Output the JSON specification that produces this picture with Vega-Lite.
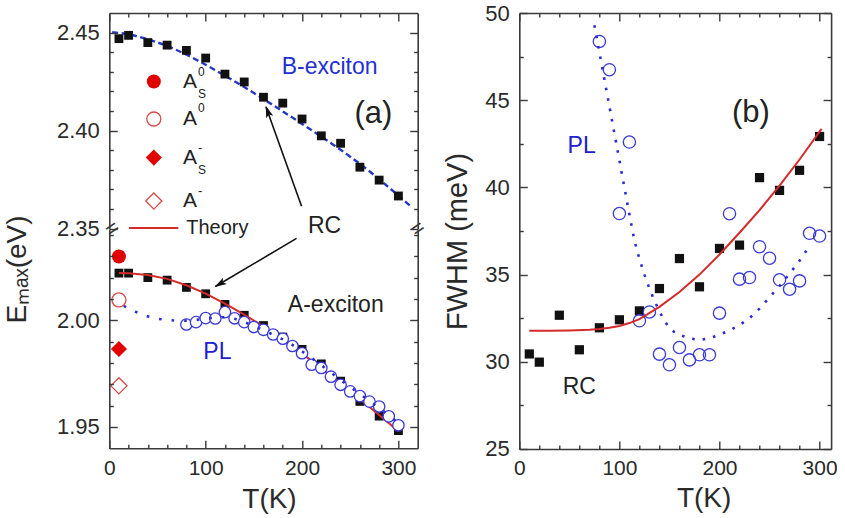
{
  "$schema": "https://vega.github.io/schema/vega-lite/v6.json",
  "background": "white",
  "padding": {"left": 3.3, "top": 2, "right": 0, "bottom": 0},
  "config": {
    "font": "Liberation Sans",
    "view": {"stroke": null},
    "axis": {
      "grid": false,
      "domainColor": "#3a3a3a",
      "domainWidth": 1.6,
      "tickColor": "#3a3a3a",
      "tickWidth": 1.4,
      "labelFontSize": 21,
      "labelColor": "#2a2a2a",
      "titleFontSize": 28,
      "titleFontWeight": "normal",
      "titleColor": "#2a2a2a"
    }
  },
  "datasets": {
    "note": [{"n": 1}],
    "bexc": [
      {"T": 10, "E": 2.4469}, {"T": 20, "E": 2.4486}, {"T": 40, "E": 2.4449}, {"T": 60, "E": 2.4436},
      {"T": 80, "E": 2.4409}, {"T": 100, "E": 2.4370}, {"T": 120, "E": 2.4288}, {"T": 140, "E": 2.4248},
      {"T": 160, "E": 2.4170}, {"T": 180, "E": 2.4140}, {"T": 200, "E": 2.4059}, {"T": 220, "E": 2.3973},
      {"T": 240, "E": 2.3935}, {"T": 260, "E": 2.3813}, {"T": 280, "E": 2.3747}, {"T": 300, "E": 2.3666}
    ],
    "bfit": [
      {"T": 3, "E": 2.4502}, {"T": 20, "E": 2.4493}, {"T": 40, "E": 2.4466}, {"T": 60, "E": 2.4433},
      {"T": 80, "E": 2.4388}, {"T": 100, "E": 2.4336}, {"T": 120, "E": 2.4280}, {"T": 140, "E": 2.4222},
      {"T": 160, "E": 2.4161}, {"T": 180, "E": 2.4098}, {"T": 200, "E": 2.4034}, {"T": 220, "E": 2.3969},
      {"T": 240, "E": 2.3902}, {"T": 260, "E": 2.3831}, {"T": 280, "E": 2.3752}, {"T": 300, "E": 2.3668},
      {"T": 312, "E": 2.3617}
    ],
    "arc": [
      {"T": 10, "E": 2.0222}, {"T": 20, "E": 2.0222}, {"T": 40, "E": 2.0201}, {"T": 60, "E": 2.0189},
      {"T": 80, "E": 2.0155}, {"T": 100, "E": 2.0125}, {"T": 120, "E": 2.0075}, {"T": 140, "E": 2.0024},
      {"T": 160, "E": 1.9976}, {"T": 180, "E": 1.9922}, {"T": 200, "E": 1.9864}, {"T": 220, "E": 1.9796},
      {"T": 240, "E": 1.9715}, {"T": 260, "E": 1.9620}, {"T": 280, "E": 1.9551}, {"T": 300, "E": 1.9483}
    ],
    "atheory": [
      {"T": 10, "E": 2.0222}, {"T": 20, "E": 2.0221}, {"T": 40, "E": 2.0213}, {"T": 60, "E": 2.0195},
      {"T": 80, "E": 2.0165}, {"T": 100, "E": 2.0126}, {"T": 120, "E": 2.0079}, {"T": 140, "E": 2.0027},
      {"T": 160, "E": 1.9972}, {"T": 180, "E": 1.9910}, {"T": 200, "E": 1.9844}, {"T": 220, "E": 1.9775},
      {"T": 240, "E": 1.9704}, {"T": 260, "E": 1.9631}, {"T": 280, "E": 1.9556}, {"T": 300, "E": 1.9480}
    ],
    "apl": [
      {"T": 80, "E": 1.9981}, {"T": 90, "E": 1.9992}, {"T": 100, "E": 2.0011}, {"T": 110, "E": 2.0009},
      {"T": 120, "E": 2.0039}, {"T": 130, "E": 2.0010}, {"T": 140, "E": 1.9992}, {"T": 150, "E": 1.9969},
      {"T": 160, "E": 1.9956}, {"T": 170, "E": 1.9934}, {"T": 180, "E": 1.9914}, {"T": 190, "E": 1.9880},
      {"T": 200, "E": 1.9846}, {"T": 210, "E": 1.9792}, {"T": 220, "E": 1.9777}, {"T": 230, "E": 1.9736},
      {"T": 240, "E": 1.9698}, {"T": 250, "E": 1.9667}, {"T": 260, "E": 1.9645}, {"T": 270, "E": 1.9619},
      {"T": 280, "E": 1.9596}, {"T": 290, "E": 1.9550}, {"T": 300, "E": 1.9508}
    ],
    "aplfit": [
      {"T": 15, "E": 2.0068}, {"T": 20, "E": 2.0056}, {"T": 30, "E": 2.0035}, {"T": 40, "E": 2.0019},
      {"T": 50, "E": 2.0008}, {"T": 60, "E": 2.0002}, {"T": 70, "E": 1.9999}, {"T": 80, "E": 1.9999},
      {"T": 90, "E": 2.0002}, {"T": 100, "E": 2.0008}, {"T": 110, "E": 2.0014}, {"T": 120, "E": 2.0015},
      {"T": 130, "E": 2.0008}, {"T": 140, "E": 1.9993}, {"T": 150, "E": 1.9974}, {"T": 160, "E": 1.9954},
      {"T": 170, "E": 1.9933}, {"T": 180, "E": 1.9911}, {"T": 190, "E": 1.9885}, {"T": 200, "E": 1.9855},
      {"T": 210, "E": 1.9823}, {"T": 220, "E": 1.9790}, {"T": 230, "E": 1.9755}, {"T": 240, "E": 1.9721},
      {"T": 250, "E": 1.9688}, {"T": 260, "E": 1.9655}, {"T": 270, "E": 1.9622}, {"T": 280, "E": 1.9590},
      {"T": 290, "E": 1.9555}, {"T": 300, "E": 1.9518}
    ],
    "trions": [
      {"T": 10, "E": 2.0300, "state": "As0"},
      {"T": 10, "E": 2.0096, "state": "A0"},
      {"T": 10, "E": 1.9866, "state": "AsM"},
      {"T": 10, "E": 1.9693, "state": "AM"}
    ],
    "wrc": [
      {"T": 10, "W": 30.45}, {"T": 20, "W": 29.98}, {"T": 40, "W": 32.67}, {"T": 60, "W": 30.69},
      {"T": 80, "W": 31.95}, {"T": 100, "W": 32.41}, {"T": 120, "W": 32.92}, {"T": 140, "W": 34.20},
      {"T": 160, "W": 35.92}, {"T": 180, "W": 34.30}, {"T": 200, "W": 36.50}, {"T": 220, "W": 36.69},
      {"T": 240, "W": 40.56}, {"T": 260, "W": 39.83}, {"T": 280, "W": 40.98}, {"T": 300, "W": 42.92}
    ],
    "wpl": [
      {"T": 80, "W": 48.37}, {"T": 90, "W": 46.75}, {"T": 100, "W": 38.50}, {"T": 110, "W": 42.60},
      {"T": 120, "W": 32.35}, {"T": 130, "W": 32.86}, {"T": 140, "W": 30.44}, {"T": 150, "W": 29.83},
      {"T": 160, "W": 30.82}, {"T": 170, "W": 30.11}, {"T": 180, "W": 30.40}, {"T": 190, "W": 30.40},
      {"T": 200, "W": 32.79}, {"T": 210, "W": 38.49}, {"T": 220, "W": 34.74}, {"T": 230, "W": 34.83},
      {"T": 240, "W": 36.60}, {"T": 250, "W": 35.94}, {"T": 260, "W": 34.70}, {"T": 270, "W": 34.16},
      {"T": 280, "W": 34.64}, {"T": 290, "W": 37.37}, {"T": 300, "W": 37.21}
    ],
    "wtheory": [
      {"T": 10, "W": 31.78}, {"T": 30, "W": 31.78}, {"T": 50, "W": 31.80}, {"T": 70, "W": 31.84},
      {"T": 80, "W": 31.88}, {"T": 90, "W": 31.95}, {"T": 100, "W": 32.05}, {"T": 110, "W": 32.22},
      {"T": 120, "W": 32.45}, {"T": 140, "W": 33.15}, {"T": 160, "W": 34.00}, {"T": 180, "W": 35.00},
      {"T": 200, "W": 36.15}, {"T": 220, "W": 37.40}, {"T": 240, "W": 38.70}, {"T": 260, "W": 40.10},
      {"T": 280, "W": 41.60}, {"T": 300, "W": 43.20}, {"T": 302, "W": 43.35}
    ],
    "wplfit": [
      {"T": 75, "W": 49.30}, {"T": 80, "W": 47.75}, {"T": 85, "W": 46.20}, {"T": 90, "W": 44.65},
      {"T": 95, "W": 43.10}, {"T": 100, "W": 41.55}, {"T": 105, "W": 40.00}, {"T": 110, "W": 38.45},
      {"T": 115, "W": 36.95}, {"T": 120, "W": 35.90}, {"T": 125, "W": 35.00}, {"T": 130, "W": 34.20},
      {"T": 135, "W": 33.50}, {"T": 140, "W": 32.90}, {"T": 145, "W": 32.35}, {"T": 150, "W": 31.95},
      {"T": 155, "W": 31.70}, {"T": 160, "W": 31.55}, {"T": 170, "W": 31.35}, {"T": 180, "W": 31.25},
      {"T": 190, "W": 31.35}, {"T": 200, "W": 31.55}, {"T": 210, "W": 31.80}, {"T": 220, "W": 32.10},
      {"T": 230, "W": 32.50}, {"T": 240, "W": 33.05}, {"T": 250, "W": 33.70}, {"T": 260, "W": 34.35},
      {"T": 270, "W": 35.05}, {"T": 280, "W": 35.80}, {"T": 290, "W": 36.65}
    ]
  },
  "spacing": 14,
  "hconcat": [
    {
      "spacing": 0,
      "bounds": "flush",
      "vconcat": [
        {
          "width": 308.4,
          "height": 215.5,
          "resolve": {"axis": {"x": "independent", "y": "independent"}},
          "layer": [
            {
              "layer": [
                {
                  "data": {"name": "bfit"},
                  "mark": {"type": "line", "stroke": "#2438c8", "strokeWidth": 2.4, "strokeDash": [6, 3.5]},
                  "encoding": {"x": {"field": "T", "type": "quantitative", "axis": null}, "y": {"field": "E", "type": "quantitative", "axis": null}}
                },
                {
                  "data": {"name": "bexc"},
                  "mark": {"type": "square", "color": "#111111", "size": 78, "opacity": 1},
                  "encoding": {"x": {"field": "T", "type": "quantitative", "axis": null}, "y": {"field": "E", "type": "quantitative", "axis": null}}
                },
                {
                  "data": {"name": "note"},
                  "mark": {"type": "text", "text": "B-exciton", "color": "#2430d0", "fontSize": 23, "baseline": "middle"},
                  "encoding": {"x": {"datum": 228.6, "axis": null}, "y": {"datum": 2.4324, "axis": null}}
                },
                {
                  "data": {"name": "note"},
                  "mark": {"type": "text", "text": "(a)", "color": "#222222", "fontSize": 31, "baseline": "middle"},
                  "encoding": {"x": {"datum": 274.1, "axis": null}, "y": {"datum": 2.4085, "axis": null}}
                },
                {
                  "data": {"name": "note"},
                  "mark": {"type": "text", "text": "RC", "color": "#222222", "fontSize": 23, "baseline": "middle"},
                  "encoding": {"x": {"datum": 223.4, "axis": null}, "y": {"datum": 2.3512, "axis": null}}
                },
                {
                  "data": {"name": "note"},
                  "mark": {"type": "rule", "color": "#111111", "strokeWidth": 1.6},
                  "encoding": {"x": {"datum": 199.5, "axis": null}, "y": {"datum": 2.3614, "axis": null}, "x2": {"datum": 162.6}, "y2": {"datum": 2.4120}}
                },
                {
                  "data": {"name": "note"},
                  "mark": {"type": "point", "shape": "M0,0L-0.5,1.6L0,1.25L0.5,1.6Z", "filled": true, "color": "#111111", "size": 225, "angle": 340.4, "opacity": 1},
                  "encoding": {"x": {"datum": 162.3, "axis": null}, "y": {"datum": 2.4127, "axis": null}}
                },
                {
                  "data": {"name": "note"},
                  "mark": {"type": "point", "shape": "circle", "filled": true, "color": "#e00000", "size": 196, "opacity": 1},
                  "encoding": {"x": {"datum": 46.2, "axis": null}, "y": {"datum": 2.4250, "axis": null}}
                },
                {
                  "data": {"name": "note"},
                  "mark": {"type": "point", "shape": "circle", "filled": false, "color": "#d64a4a", "strokeWidth": 1.3, "size": 196, "opacity": 1},
                  "encoding": {"x": {"datum": 46.2, "axis": null}, "y": {"datum": 2.4059, "axis": null}}
                },
                {
                  "data": {"name": "note"},
                  "mark": {"type": "point", "shape": "diamond", "filled": true, "color": "#e00000", "size": 260, "opacity": 1},
                  "encoding": {"x": {"datum": 46.2, "axis": null}, "y": {"datum": 2.3862, "axis": null}}
                },
                {
                  "data": {"name": "note"},
                  "mark": {"type": "point", "shape": "diamond", "filled": false, "color": "#d64a4a", "strokeWidth": 1.3, "size": 260, "opacity": 1},
                  "encoding": {"x": {"datum": 46.2, "axis": null}, "y": {"datum": 2.3640, "axis": null}}
                },
                {
                  "data": {"name": "note"},
                  "mark": {"type": "rule", "color": "#d42a2a", "strokeWidth": 2},
                  "encoding": {"x": {"datum": 20.5, "axis": null}, "x2": {"datum": 71.6}, "y": {"datum": 2.3503, "axis": null}}
                },
                {
                  "data": {"name": "note"},
                  "mark": {"type": "text", "text": "A", "color": "#222222", "fontSize": 21, "align": "left", "baseline": "middle"},
                  "encoding": {"x": {"datum": 76.4, "axis": null}, "y": {"datum": 2.4250, "axis": null}}
                },
                {
                  "data": {"name": "note"},
                  "mark": {"type": "text", "text": "0", "color": "#222222", "fontSize": 12, "align": "left", "baseline": "middle", "dx": 15, "dy": -10},
                  "encoding": {"x": {"datum": 76.4, "axis": null}, "y": {"datum": 2.4250, "axis": null}}
                },
                {
                  "data": {"name": "note"},
                  "mark": {"type": "text", "text": "S", "color": "#222222", "fontSize": 12, "align": "left", "baseline": "middle", "dx": 15, "dy": 12},
                  "encoding": {"x": {"datum": 76.4, "axis": null}, "y": {"datum": 2.4250, "axis": null}}
                },
                {
                  "data": {"name": "note"},
                  "mark": {"type": "text", "text": "A", "color": "#222222", "fontSize": 21, "align": "left", "baseline": "middle"},
                  "encoding": {"x": {"datum": 76.4, "axis": null}, "y": {"datum": 2.4059, "axis": null}}
                },
                {
                  "data": {"name": "note"},
                  "mark": {"type": "text", "text": "0", "color": "#222222", "fontSize": 12, "align": "left", "baseline": "middle", "dx": 15, "dy": -11},
                  "encoding": {"x": {"datum": 76.4, "axis": null}, "y": {"datum": 2.4059, "axis": null}}
                },
                {
                  "data": {"name": "note"},
                  "mark": {"type": "text", "text": "A", "color": "#222222", "fontSize": 21, "align": "left", "baseline": "middle"},
                  "encoding": {"x": {"datum": 76.4, "axis": null}, "y": {"datum": 2.3862, "axis": null}}
                },
                {
                  "data": {"name": "note"},
                  "mark": {"type": "text", "text": "-", "color": "#222222", "fontSize": 13, "align": "left", "baseline": "middle", "dx": 15, "dy": -10},
                  "encoding": {"x": {"datum": 76.4, "axis": null}, "y": {"datum": 2.3862, "axis": null}}
                },
                {
                  "data": {"name": "note"},
                  "mark": {"type": "text", "text": "S", "color": "#222222", "fontSize": 12, "align": "left", "baseline": "middle", "dx": 15, "dy": 12},
                  "encoding": {"x": {"datum": 76.4, "axis": null}, "y": {"datum": 2.3862, "axis": null}}
                },
                {
                  "data": {"name": "note"},
                  "mark": {"type": "text", "text": "A", "color": "#222222", "fontSize": 21, "align": "left", "baseline": "middle"},
                  "encoding": {"x": {"datum": 76.4, "axis": null}, "y": {"datum": 2.3640, "axis": null}}
                },
                {
                  "data": {"name": "note"},
                  "mark": {"type": "text", "text": "-", "color": "#222222", "fontSize": 13, "align": "left", "baseline": "middle", "dx": 15, "dy": -10},
                  "encoding": {"x": {"datum": 76.4, "axis": null}, "y": {"datum": 2.3640, "axis": null}}
                },
                {
                  "data": {"name": "note"},
                  "mark": {"type": "text", "text": "Theory", "color": "#222222", "fontSize": 20, "align": "left", "baseline": "middle"},
                  "encoding": {"x": {"datum": 79.8, "axis": null}, "y": {"datum": 2.3503, "axis": null}}
                },
                {
                  "data": {"name": "note"},
                  "mark": {"type": "text", "text": "=", "color": "#333333", "fontSize": 22, "angle": 325, "baseline": "middle"},
                  "encoding": {"x": {"datum": 3, "axis": null}, "y": {"datum": 2.35, "axis": null}}
                },
                {
                  "data": {"name": "note"},
                  "mark": {"type": "text", "text": "=", "color": "#333333", "fontSize": 22, "angle": 325, "baseline": "middle"},
                  "encoding": {"x": {"datum": 320, "axis": null}, "y": {"datum": 2.35, "axis": null}}
                }
              ]
            },
            {
              "data": {"name": "bexc"},
              "mark": {"type": "point", "opacity": 0},
              "encoding": {
                "x": {"field": "T", "type": "quantitative", "scale": {"domain": [0, 320], "nice": false, "zero": false},
                  "axis": {"orient": "top", "values": [0, 100, 200, 300], "labels": false, "title": null, "tickSize": -8, "zindex": 1}},
                "y": {"field": "E", "type": "quantitative", "scale": {"domain": [2.35, 2.46], "nice": false, "zero": false},
                  "axis": {"orient": "left", "values": [2.35, 2.40, 2.45], "format": ".2f", "labelFontSize": 22, "labelPadding": 18, "labelOverlap": false, "title": null, "tickSize": -8, "zindex": 1}}
              }
            },
            {
              "data": {"name": "bexc"},
              "mark": {"type": "point", "opacity": 0},
              "encoding": {
                "x": {"field": "T", "type": "quantitative",
                  "axis": {"orient": "top", "values": [20, 40, 60, 80, 120, 140, 160, 180, 220, 240, 260, 280], "labels": false, "domain": false, "title": null, "tickSize": -4, "zindex": 1}},
                "y": {"field": "E", "type": "quantitative",
                  "axis": {"orient": "left", "values": [2.36, 2.37, 2.38, 2.39, 2.41, 2.42, 2.43, 2.44], "labels": false, "domain": false, "title": null, "tickSize": -4, "zindex": 1}}
              }
            },
            {
              "data": {"name": "bexc"},
              "mark": {"type": "point", "opacity": 0},
              "encoding": {
                "x": {"field": "T", "type": "quantitative", "axis": null},
                "y": {"field": "E", "type": "quantitative",
                  "axis": {"orient": "right", "values": [2.35, 2.40, 2.45], "labels": false, "title": null, "tickSize": -8, "zindex": 1}}
              }
            },
            {
              "data": {"name": "bexc"},
              "mark": {"type": "point", "opacity": 0},
              "encoding": {
                "x": {"field": "T", "type": "quantitative", "axis": null},
                "y": {"field": "E", "type": "quantitative",
                  "axis": {"orient": "right", "values": [2.36, 2.37, 2.38, 2.39, 2.41, 2.42, 2.43, 2.44], "labels": false, "domain": false, "title": null, "tickSize": -4, "zindex": 1}}
              }
            }
          ]
        },
        {
          "width": 308.4,
          "height": 219.3,
          "resolve": {"axis": {"x": "independent", "y": "independent"}},
          "layer": [
            {
              "layer": [
                {
                  "data": {"name": "arc"},
                  "mark": {"type": "square", "color": "#111111", "size": 78, "opacity": 1},
                  "encoding": {"x": {"field": "T", "type": "quantitative", "axis": null}, "y": {"field": "E", "type": "quantitative", "axis": null}}
                },
                {
                  "data": {"name": "atheory"},
                  "mark": {"type": "line", "stroke": "#d42a2a", "strokeWidth": 2},
                  "encoding": {"x": {"field": "T", "type": "quantitative", "axis": null}, "y": {"field": "E", "type": "quantitative", "axis": null}}
                },
                {
                  "data": {"name": "apl"},
                  "mark": {"type": "point", "shape": "circle", "filled": true, "fill": "#ffffff", "stroke": "#3a3ad8", "strokeWidth": 1.3, "size": 130, "opacity": 1},
                  "encoding": {"x": {"field": "T", "type": "quantitative", "axis": null}, "y": {"field": "E", "type": "quantitative", "axis": null}}
                },
                {
                  "data": {"name": "aplfit"},
                  "mark": {"type": "line", "stroke": "#2b2bd6", "strokeWidth": 2.6, "strokeDash": [2.6, 10]},
                  "encoding": {"x": {"field": "T", "type": "quantitative", "axis": null}, "y": {"field": "E", "type": "quantitative", "axis": null}}
                },
                {
                  "data": {"name": "trions"},
                  "transform": [{"filter": "datum.state === 'As0'"}],
                  "mark": {"type": "point", "shape": "circle", "filled": true, "color": "#e00000", "size": 196, "opacity": 1},
                  "encoding": {"x": {"field": "T", "type": "quantitative", "axis": null}, "y": {"field": "E", "type": "quantitative", "axis": null}}
                },
                {
                  "data": {"name": "trions"},
                  "transform": [{"filter": "datum.state === 'A0'"}],
                  "mark": {"type": "point", "shape": "circle", "filled": false, "color": "#d64a4a", "strokeWidth": 1.3, "size": 196, "opacity": 1},
                  "encoding": {"x": {"field": "T", "type": "quantitative", "axis": null}, "y": {"field": "E", "type": "quantitative", "axis": null}}
                },
                {
                  "data": {"name": "trions"},
                  "transform": [{"filter": "datum.state === 'AsM'"}],
                  "mark": {"type": "point", "shape": "diamond", "filled": true, "color": "#e00000", "size": 260, "opacity": 1},
                  "encoding": {"x": {"field": "T", "type": "quantitative", "axis": null}, "y": {"field": "E", "type": "quantitative", "axis": null}}
                },
                {
                  "data": {"name": "trions"},
                  "transform": [{"filter": "datum.state === 'AM'"}],
                  "mark": {"type": "point", "shape": "diamond", "filled": false, "color": "#d64a4a", "strokeWidth": 1.3, "size": 260, "opacity": 1},
                  "encoding": {"x": {"field": "T", "type": "quantitative", "axis": null}, "y": {"field": "E", "type": "quantitative", "axis": null}}
                },
                {
                  "data": {"name": "note"},
                  "mark": {"type": "text", "text": "A-exciton", "color": "#222222", "fontSize": 23, "baseline": "middle"},
                  "encoding": {"x": {"datum": 235, "axis": null}, "y": {"datum": 2.0071, "axis": null}}
                },
                {
                  "data": {"name": "note"},
                  "mark": {"type": "text", "text": "PL", "color": "#2020d0", "fontSize": 23, "baseline": "middle"},
                  "encoding": {"x": {"datum": 112.2, "axis": null}, "y": {"datum": 1.9850, "axis": null}}
                },
                {
                  "data": {"name": "note"},
                  "mark": {"type": "rule", "color": "#111111", "strokeWidth": 1.6},
                  "encoding": {"x": {"datum": 194.3, "axis": null}, "y": {"datum": 2.0385, "axis": null}, "x2": {"datum": 110}, "y2": {"datum": 2.0159}}
                },
                {
                  "data": {"name": "note"},
                  "mark": {"type": "point", "shape": "M0,0L-0.5,1.6L0,1.25L0.5,1.6Z", "filled": true, "color": "#111111", "size": 225, "angle": 239.4, "opacity": 1},
                  "encoding": {"x": {"datum": 109.3, "axis": null}, "y": {"datum": 2.0157, "axis": null}}
                }
              ]
            },
            {
              "data": {"name": "arc"},
              "mark": {"type": "point", "opacity": 0},
              "encoding": {
                "x": {"field": "T", "type": "quantitative", "scale": {"domain": [0, 320], "nice": false, "zero": false},
                  "axis": {"orient": "bottom", "values": [0, 100, 200, 300], "labelPadding": 17, "labelOverlap": false, "labelFlush": false, "tickSize": -8, "zindex": 1,
                    "title": "T(K)", "titleX": 159.7, "titleY": 59.7, "titleBaseline": "alphabetic", "titleAlign": "center"}},
                "y": {"field": "E", "type": "quantitative", "scale": {"domain": [1.94, 2.0429], "nice": false, "zero": false},
                  "axis": {"orient": "left", "values": [1.95, 2.0], "format": ".2f", "labelFontSize": 22, "labelPadding": 18, "labelOverlap": false, "tickSize": -8, "zindex": 1,
                    "title": "Eₘₐₓ(eV)", "titleX": -83.9, "titleY": 40, "titleAngle": 270, "titleBaseline": "alphabetic", "titleAlign": "center"}}
              }
            },
            {
              "data": {"name": "arc"},
              "mark": {"type": "point", "opacity": 0},
              "encoding": {
                "x": {"field": "T", "type": "quantitative",
                  "axis": {"orient": "bottom", "values": [20, 40, 60, 80, 120, 140, 160, 180, 220, 240, 260, 280], "labels": false, "domain": false, "title": null, "tickSize": -4, "zindex": 1}},
                "y": {"field": "E", "type": "quantitative",
                  "axis": {"orient": "left", "values": [1.96, 1.97, 1.98, 1.99, 2.01, 2.02, 2.03, 2.04], "labels": false, "domain": false, "title": null, "tickSize": -4, "zindex": 1}}
              }
            },
            {
              "data": {"name": "arc"},
              "mark": {"type": "point", "opacity": 0},
              "encoding": {
                "x": {"field": "T", "type": "quantitative", "axis": null},
                "y": {"field": "E", "type": "quantitative",
                  "axis": {"orient": "right", "values": [1.95, 2.0], "labels": false, "title": null, "tickSize": -8, "zindex": 1}}
              }
            },
            {
              "data": {"name": "arc"},
              "mark": {"type": "point", "opacity": 0},
              "encoding": {
                "x": {"field": "T", "type": "quantitative", "axis": null},
                "y": {"field": "E", "type": "quantitative",
                  "axis": {"orient": "right", "values": [1.96, 1.97, 1.98, 1.99, 2.01, 2.02, 2.03, 2.04], "labels": false, "domain": false, "title": null, "tickSize": -4, "zindex": 1}}
              }
            }
          ]
        }
      ]
    },
    {
      "width": 311.8,
      "height": 436,
      "resolve": {"axis": {"x": "independent", "y": "independent"}},
      "layer": [
        {
          "layer": [
            {
              "data": {"name": "wrc"},
              "mark": {"type": "square", "color": "#111111", "size": 85, "opacity": 1},
              "encoding": {"x": {"field": "T", "type": "quantitative", "axis": null}, "y": {"field": "W", "type": "quantitative", "axis": null}}
            },
            {
              "data": {"name": "wpl"},
              "mark": {"type": "point", "shape": "circle", "filled": false, "color": "#3a3ad8", "strokeWidth": 1.3, "size": 150, "opacity": 1},
              "encoding": {"x": {"field": "T", "type": "quantitative", "axis": null}, "y": {"field": "W", "type": "quantitative", "axis": null}}
            },
            {
              "data": {"name": "wtheory"},
              "mark": {"type": "line", "stroke": "#d42a2a", "strokeWidth": 2},
              "encoding": {"x": {"field": "T", "type": "quantitative", "axis": null}, "y": {"field": "W", "type": "quantitative", "axis": null}}
            },
            {
              "data": {"name": "wplfit"},
              "mark": {"type": "line", "stroke": "#2b2bd6", "strokeWidth": 2.6, "strokeDash": [2.6, 8]},
              "encoding": {"x": {"field": "T", "type": "quantitative", "axis": null}, "y": {"field": "W", "type": "quantitative", "axis": null}}
            },
            {
              "data": {"name": "note"},
              "mark": {"type": "text", "text": "(b)", "color": "#222222", "fontSize": 31, "baseline": "middle"},
              "encoding": {"x": {"datum": 231.3, "axis": null}, "y": {"datum": 44.29, "axis": null}}
            },
            {
              "data": {"name": "note"},
              "mark": {"type": "text", "text": "PL", "color": "#2020d0", "fontSize": 23, "baseline": "middle"},
              "encoding": {"x": {"datum": 62.3, "axis": null}, "y": {"datum": 42.36, "axis": null}}
            },
            {
              "data": {"name": "note"},
              "mark": {"type": "text", "text": "RC", "color": "#222222", "fontSize": 23, "baseline": "middle"},
              "encoding": {"x": {"datum": 60, "axis": null}, "y": {"datum": 28.55, "axis": null}}
            }
          ]
        },
        {
          "data": {"name": "wrc"},
          "mark": {"type": "point", "opacity": 0},
          "encoding": {
            "x": {"field": "T", "type": "quantitative", "scale": {"domain": [0, 311.5], "nice": false, "zero": false},
              "axis": {"orient": "bottom", "values": [0, 100, 200, 300], "labelPadding": 17, "labelOverlap": false, "labelFlush": false, "tickSize": -8, "zindex": 1,
                "title": "T(K)", "titleX": 184.3, "titleY": 57.7, "titleBaseline": "alphabetic", "titleAlign": "center"}},
            "y": {"field": "W", "type": "quantitative", "scale": {"domain": [25, 50], "nice": false, "zero": false},
              "axis": {"orient": "left", "values": [25, 30, 35, 40, 45, 50], "labelFontSize": 22, "labelPadding": 18, "labelOverlap": false, "labelFlush": false, "tickSize": -8, "zindex": 1,
                "title": "FWHM (meV)", "titleX": -52.5, "titleY": 228, "titleAngle": 270, "titleBaseline": "alphabetic", "titleAlign": "center", "titleFontSize": 29}}
          }
        },
        {
          "data": {"name": "wrc"},
          "mark": {"type": "point", "opacity": 0},
          "encoding": {
            "x": {"field": "T", "type": "quantitative",
              "axis": {"orient": "bottom", "values": [20, 40, 60, 80, 120, 140, 160, 180, 220, 240, 260, 280], "labels": false, "domain": false, "title": null, "tickSize": -4, "zindex": 1}},
            "y": {"field": "W", "type": "quantitative",
              "axis": {"orient": "left", "values": [27.5, 32.5, 37.5, 42.5, 47.5], "labels": false, "domain": false, "title": null, "tickSize": -4, "zindex": 1}}
          }
        },
        {
          "data": {"name": "wrc"},
          "mark": {"type": "point", "opacity": 0},
          "encoding": {
            "x": {"field": "T", "type": "quantitative",
              "axis": {"orient": "top", "values": [0, 100, 200, 300], "labels": false, "title": null, "tickSize": -8, "zindex": 1}},
            "y": {"field": "W", "type": "quantitative",
              "axis": {"orient": "right", "values": [25, 30, 35, 40, 45, 50], "labels": false, "title": null, "tickSize": -8, "zindex": 1}}
          }
        },
        {
          "data": {"name": "wrc"},
          "mark": {"type": "point", "opacity": 0},
          "encoding": {
            "x": {"field": "T", "type": "quantitative",
              "axis": {"orient": "top", "values": [20, 40, 60, 80, 120, 140, 160, 180, 220, 240, 260, 280], "labels": false, "domain": false, "title": null, "tickSize": -4, "zindex": 1}},
            "y": {"field": "W", "type": "quantitative",
              "axis": {"orient": "right", "values": [27.5, 32.5, 37.5, 42.5, 47.5], "labels": false, "domain": false, "title": null, "tickSize": -4, "zindex": 1}}
          }
        }
      ]
    }
  ]
}
